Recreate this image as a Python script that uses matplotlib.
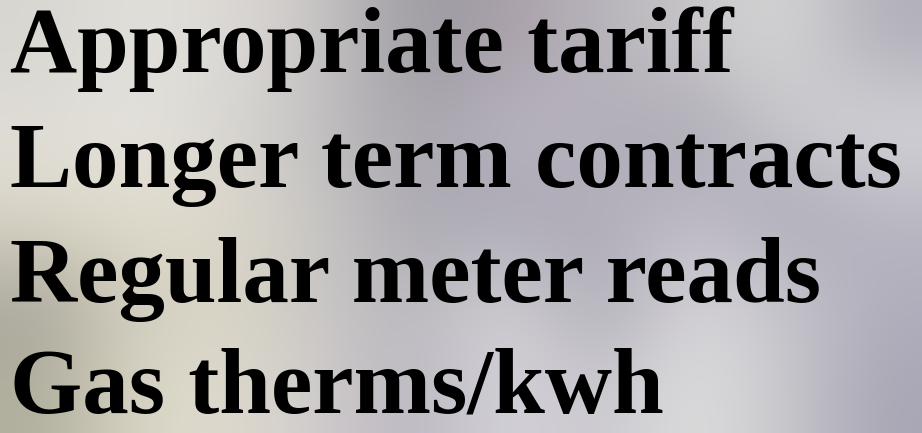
import matplotlib
matplotlib.use("Agg")
import matplotlib.pyplot as plt
import numpy as np
from matplotlib.colors import to_rgb

# slide lines
lines = ["Appropriate tariff",
         "Longer term contracts",
         "Regular meter reads",
         "Gas therms/kwh"]

# coarse colours of the blurred photo behind the text (5 rows x 10 cols)
bg_rows = [
    ["#d8d6d0", "#e2e0da", "#dddad6", "#c8c4c4", "#9a9aa0", "#a89ea8", "#b8b4bc", "#c8c6c8", "#d8d8d8", "#b0aeb8"],
    ["#e0ddd8", "#e6e4df", "#d8d6d2", "#c0bec0", "#a8a4ac", "#bcb8c4", "#b4b0bc", "#a8a6b0", "#c8c8cc", "#d8d8dc"],
    ["#dcd8c8", "#e2dccc", "#ddd8cc", "#c8c6c4", "#aaa8b0", "#a8a6b4", "#b0acb8", "#c0bcc8", "#a8a6b4", "#b8b6c0"],
    ["#a8a69c", "#d4d0c0", "#d8d4c4", "#c8c6c4", "#b8b6bc", "#d8d6d8", "#a8a6b0", "#dad8dc", "#c8c6cc", "#b0aebc"],
    ["#b0ae9c", "#dcd8c8", "#dedace", "#d0cccc", "#b8b4c0", "#d8d6dc", "#c8c6cc", "#e0e0e0", "#c8c8cc", "#a8a6b4"],
]

W, H = 922, 433
fig = plt.figure(figsize=(W / 100, H / 100), dpi=100)
ax = fig.add_axes([0, 0, 1, 1])
img = np.array([[to_rgb(c) for c in row] for row in bg_rows])
ax.imshow(img, extent=[0, W, H, 0], aspect="auto", interpolation="bicubic")
ax.set_xlim(0, W)
ax.set_ylim(H, 0)
ax.axis("off")

baselines = [72, 187, 302, 412]
for txt, yb in zip(lines, baselines):
    ax.text(10, yb, txt, fontsize=67, fontweight="bold",
            family=["Liberation Serif", "DejaVu Serif"],
            color="black", ha="left", va="baseline")

fig.savefig("out.png", dpi=100)
